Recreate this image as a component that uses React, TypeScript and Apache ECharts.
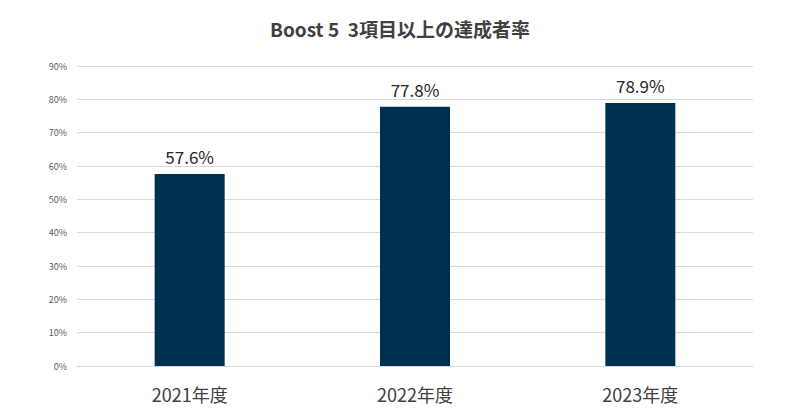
import React, { useEffect, useRef } from 'react'
import * as echarts from 'echarts'

const categories = ['2021年度', '2022年度', '2023年度']
const rates = [57.6, 77.8, 78.9]
const title = 'Boost 5  3項目以上の達成者率'

export default function App(): JSX.Element {
  const chartRef = useRef<HTMLDivElement>(null)

  useEffect(() => {
    if (!chartRef.current) return
    const chart = echarts.init(chartRef.current, undefined, { renderer: 'svg' })
    const font = '"Noto Sans CJK JP", "Noto Sans", sans-serif'

    chart.setOption({
      animation: false,
      backgroundColor: '#ffffff',
      title: {
        text: title,
        left: 'center',
        top: 6,
        textStyle: { color: '#404040', fontSize: 19, fontWeight: 'bold', fontFamily: font }
      },
      grid: { left: 69, right: 39, top: 58, bottom: 46 },
      xAxis: {
        type: 'category',
        data: categories,
        axisLine: { lineStyle: { color: '#d9d9d9' } },
        axisTick: { show: false },
        axisLabel: { color: '#404040', fontSize: 18, margin: 19, fontFamily: font }
      },
      yAxis: {
        type: 'value',
        min: 0,
        max: 90,
        interval: 10,
        axisLine: { show: false },
        axisTick: { show: false },
        splitLine: { lineStyle: { color: '#d9d9d9' } },
        axisLabel: {
          color: '#595959',
          fontSize: 9,
          margin: 10,
          fontFamily: font,
          formatter: '{value}%'
        }
      },
      series: [{
        type: 'bar',
        data: rates,
        barWidth: 70,
        itemStyle: { color: '#00304f' },
        label: {
          show: true,
          position: 'top',
          distance: 9,
          color: '#262626',
          fontSize: 17,
          fontFamily: font,
          formatter: (p: any) => p.value.toFixed(1) + '%'
        }
      }]
    })

    return () => chart.dispose()
  }, [])

  return <div ref={chartRef} style={{ width: 784, height: 404 }} />
}
